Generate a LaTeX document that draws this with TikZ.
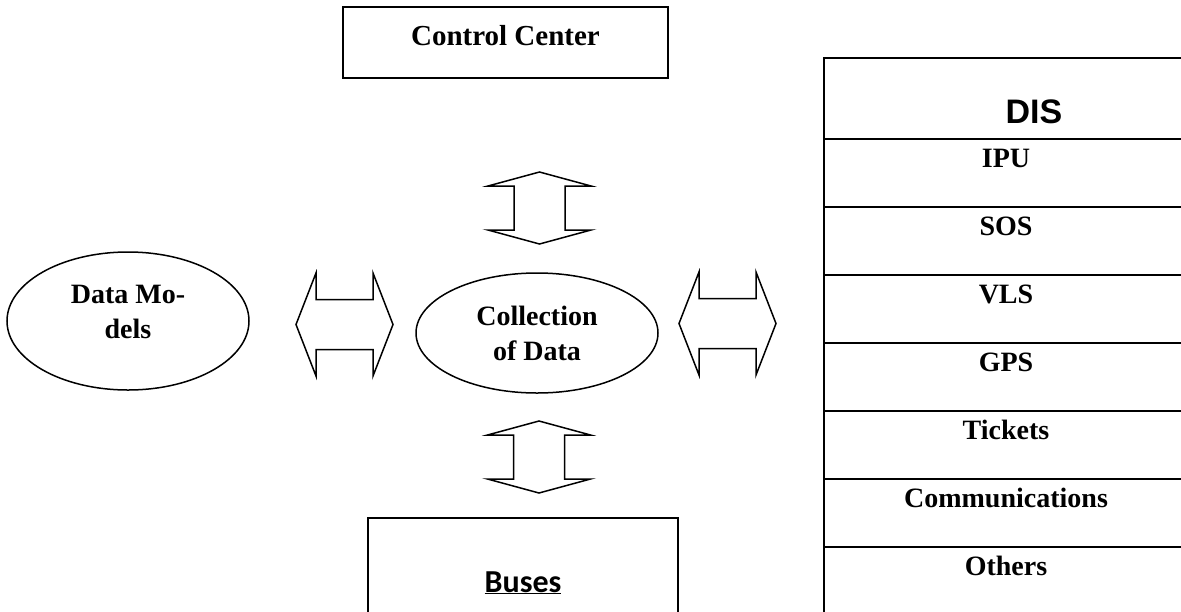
\documentclass[tikz,border=0pt]{standalone}
\usepackage{fontspec}
\setmainfont{Liberation Serif}
\newfontfamily\headfont{Liberation Sans}
\newfontfamily\busfont{Carlito}
\usetikzlibrary{shapes.geometric,calc}

\tikzset{
  frame/.style={draw, line width=2pt, rectangle, inner sep=0pt},
  oval/.style={draw, line width=1.5pt, ellipse, inner sep=0pt},
  bold28/.style={font=\fontsize{28}{35}\selectfont\bfseries, align=center},
  row/.style={frame, bold28, minimum width=364pt, minimum height=68pt,
    anchor=north west, text height=19pt, text depth=30pt},
  blockline/.style={draw, line width=1.5pt, line join=miter},
  % double-headed block arrow, horizontal
  hbi/.pic={
    \draw[blockline] (-48.5,0) -- (-28.5,-51.5) -- (-28.5,-25) -- (28.5,-25)
      -- (28.5,-51.5) -- (48.5,0) -- (28.5,51.5) -- (28.5,25) -- (-28.5,25)
      -- (-28.5,51.5) -- cycle;
  },
  % double-headed block arrow, vertical
  vbi/.pic={
    \draw[blockline] (0,-36) -- (51.5,-22) -- (25.5,-22) -- (25.5,22)
      -- (51.5,22) -- (0,36) -- (-51.5,22) -- (-25.5,22) -- (-25.5,-22)
      -- (-51.5,-22) -- cycle;
  },
}

\begin{document}
\begin{tikzpicture}[x=1pt, y=-1pt]
\useasboundingbox (0,0) rectangle (1181,611);
\clip (0,0) rectangle (1181,611);

% control centre
\node[frame, font=\fontsize{29}{35}\selectfont\bfseries,
  minimum width=325pt, minimum height=71pt,
  text height=19pt, text depth=14pt] (cc) at (505.5,42.5) {Control Center};

% central collector and data models
\node[oval, bold28, minimum width=242pt, minimum height=120pt] (col) at (537,333)
  {Collection\\of Data};
\node[oval, minimum width=242pt, minimum height=138pt,
  label={[bold28, yshift=9.5pt]center:Data Mo-\\dels}] (dm) at (128,321) {};

% buses
\node[frame, minimum width=310pt, minimum height=122pt,
  font=\busfont\fontsize{32}{38}\selectfont\bfseries,
  text height=33pt, text depth=7pt] (bus) at (523,579) {\underline{Buses}};

% DIS column
\node[frame, minimum width=364pt, minimum height=81pt, anchor=north west,
  label={[font=\headfont\fontsize{34}{40}\selectfont\bfseries,
          xshift=28pt, yshift=-13.5pt]center:DIS}] (dis) at (823,57) {};
\node[row] (ipu)  at (823,138) {IPU};
\node[row] (sos)  at (823,206) {SOS};
\node[row] (vls)  at (823,274) {VLS};
\node[row] (gps)  at (823,342) {GPS};
\node[row] (tick) at (823,410) {Tickets};
\node[row] (comm) at (823,478) {Communications};
\node[row] (oth)  at (823,546) {Others};

% exchanges between the blocks
\pic (arrCC)  at (539.5,208)   {vbi};
\pic (arrBus) at (539,457)     {vbi};
\pic (arrDM)  at (344.5,324.5) {hbi};
\pic (arrDIS) at (727.5,323.5) {hbi};
\end{tikzpicture}
\end{document}
